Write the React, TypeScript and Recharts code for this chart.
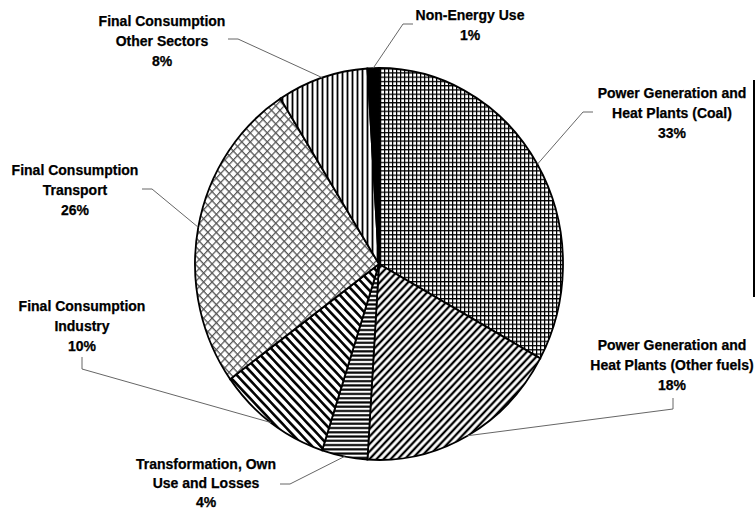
import React from "react";
import { PieChart, Pie, Cell } from "recharts";

const categories = [
  "Power Generation and|Heat Plants (Coal)",
  "Power Generation and|Heat Plants (Other fuels)",
  "Transformation, Own|Use and Losses",
  "Final Consumption|Industry",
  "Final Consumption|Transport",
  "Final Consumption|Other Sectors",
  "Non-Energy Use",
];
const shares = [33, 18, 4, 10, 26, 8, 1];
const percentLabels = ["33%", "18%", "4%", "10%", "26%", "8%", "1%"];

const data = categories.map((c, i) => ({ name: c, value: shares[i], pct: percentLabels[i] }));

// layout (not data): label text centre x, first baseline y, line step, and leader-line waypoints
const labelLayout = [
  { x: 672, y: 98, step: 20, pts: [[593, 112], [583, 112]] },
  { x: 672, y: 350, step: 20, pts: [[673, 398], [673, 409]] },
  { x: 206, y: 469, step: 19, pts: [[280, 484], [290, 484]] },
  { x: 82, y: 311, step: 20, pts: [[82, 357], [82, 369]] },
  { x: 75, y: 175, step: 20, pts: [[142, 189], [152, 189]] },
  { x: 162, y: 26, step: 20, pts: [[228, 39], [238, 39]] },
  { x: 470, y: 20, step: 20, pts: [[413, 24], [403, 24]] },
];

const CX = 379;
const CY = 264;
const R = 184;
const KY = 1.065;
const RAD = Math.PI / 180;

const renderLabel = (props: any) => {
  const { cx, cy, outerRadius, midAngle, index } = props;
  const lay = labelLayout[index];
  const ex = cx + outerRadius * Math.cos(-midAngle * RAD);
  const ey = cy + outerRadius * KY * Math.sin(-midAngle * RAD);
  const lines = String(categories[index]).split("|");
  lines.push(percentLabels[index]);
  const pts = [...lay.pts, [ex, ey]].map((p) => p.join(",")).join(" ");
  return (
    <g key={"lbl" + index}>
      <polyline points={pts} fill="none" stroke="#666" strokeWidth={1} />
      <text
        x={lay.x}
        y={lay.y}
        textAnchor="middle"
        fontFamily="'Liberation Sans', Arial, sans-serif"
        fontWeight="bold"
        fontSize={14}
        fill="#000"
        stroke="#000"
        strokeWidth={0.25}
      >
        {lines.map((l, k) => (
          <tspan key={k} x={lay.x} dy={k === 0 ? 0 : lay.step}>
            {l}
          </tspan>
        ))}
      </text>
    </g>
  );
};

const fills = ["url(#pCoal)", "url(#pOther)", "url(#pTrans)", "url(#pInd)", "url(#pTransp)", "url(#pSect)", "#000"];

export default function App() {
  return (
    <div style={{ position: "absolute", left: 0, top: 0, width: 756, height: 509, background: "#fff" }}>
      <style>{`.recharts-pie-sector { transform-origin: ${CX}px ${CY}px; transform: scaleY(${KY}); }`}</style>
      <svg width="0" height="0" style={{ position: "absolute" }}>
        <defs>
          <pattern id="pCoal" patternUnits="userSpaceOnUse" width="4" height="4">
            <rect width="4" height="4" fill="#fff" />
            <path d="M0 0.6H4M0.6 0V4" stroke="#000" strokeWidth="1.3" />
          </pattern>
          <pattern id="pOther" patternUnits="userSpaceOnUse" width="5" height="5" patternTransform="rotate(45)">
            <rect width="5" height="5" fill="#fff" />
            <path d="M2.5 0V5" stroke="#000" strokeWidth="2.2" />
          </pattern>
          <pattern id="pTrans" patternUnits="userSpaceOnUse" width="4" height="4">
            <rect width="4" height="4" fill="#fff" />
            <path d="M0 2H4" stroke="#000" strokeWidth="2" />
          </pattern>
          <pattern id="pInd" patternUnits="userSpaceOnUse" width="6" height="6" patternTransform="rotate(-45)">
            <rect width="6" height="6" fill="#fff" />
            <path d="M3 0V6" stroke="#000" strokeWidth="2.5" />
          </pattern>
          <pattern id="pTransp" patternUnits="userSpaceOnUse" width="6" height="6" patternTransform="rotate(45)">
            <rect width="6" height="6" fill="#fff" />
            <path d="M0.6 0V6M0 0.6H6" stroke="#555" strokeWidth="1.2" />
          </pattern>
          <pattern id="pSect" patternUnits="userSpaceOnUse" width="5" height="5">
            <rect width="5" height="5" fill="#fff" />
            <path d="M2.5 0V5" stroke="#000" strokeWidth="1.8" />
          </pattern>
        </defs>
      </svg>
      <PieChart width={756} height={509} margin={{ top: 0, right: 0, bottom: 0, left: 0 }}>
        <Pie
          data={data}
          dataKey="value"
          nameKey="name"
          cx={CX}
          cy={CY}
          outerRadius={R}
          startAngle={90}
          endAngle={-270}
          stroke="#000"
          strokeWidth={1.8}
          label={renderLabel}
          labelLine={false}
          isAnimationActive={false}
        >
          {data.map((d, i) => (
            <Cell key={i} fill={fills[i]} />
          ))}
        </Pie>
      </PieChart>
      <div style={{ position: "absolute", left: 753, top: 80, width: 2, height: 217, background: "#000" }} />
    </div>
  );
}
